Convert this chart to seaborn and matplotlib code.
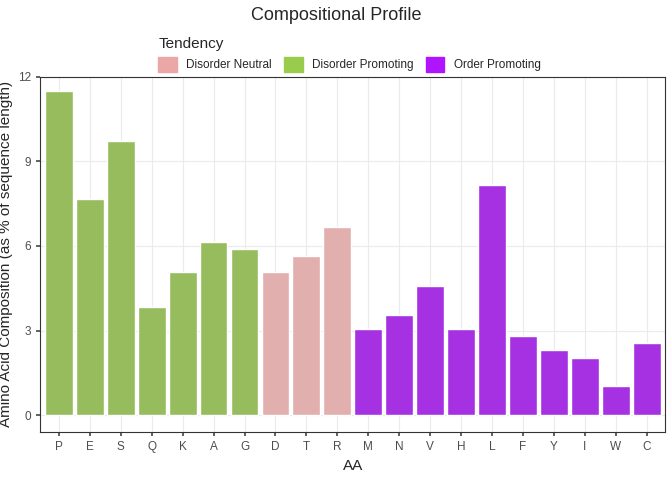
import matplotlib
matplotlib.use("Agg")
import matplotlib.pyplot as plt
import seaborn as sns
import pandas as pd
from matplotlib.patches import Patch

aa = ["P","E","S","Q","K","A","G","D","T","R","M","N","V","H","L","F","Y","I","W","C"]
values = [11.5,7.66,9.72,3.85,5.09,6.13,5.88,5.09,5.63,6.66,3.06,3.56,4.59,3.06,8.15,2.81,2.31,2.03,1.03,2.56]
tendency = ["Disorder Promoting"]*7 + ["Disorder Neutral"]*3 + ["Order Promoting"]*10
palette = {"Disorder Neutral":"#EBA6A6","Disorder Promoting":"#99CC4D","Order Promoting":"#B014FF"}

df = pd.DataFrame({"AA":aa,"val":values,"Tendency":tendency})
sns.set_theme(style="whitegrid")
plt.rcParams['font.family'] = ['Liberation Sans','DejaVu Sans']
fig, ax = plt.subplots(figsize=(6.72,4.8), dpi=100)
fig.subplots_adjust(left=0.06, right=0.99, top=0.84, bottom=0.1)
sns.barplot(data=df, x="AA", y="val", hue="Tendency", palette=palette, dodge=False,
            width=0.9, ax=ax, legend=False, order=aa)
ax.set_ylim(-0.6, 12.0)
ax.set_xlim(-0.6, 19.6)
ax.set_yticks([0,3,6,9,12])
ax.set_xlabel("AA", fontsize=11)
ax.set_ylabel("Amino Acid Composition (as % of sequence length)", fontsize=11)
ax.tick_params(labelsize=8.5, colors="#4d4d4d", length=3, left=True, bottom=True)
ax.grid(True, color="#ebebeb", linewidth=0.8)
ax.set_axisbelow(True)
for s in ax.spines.values():
    s.set_color("#333333"); s.set_linewidth(0.8)
ax.set_facecolor("white")
handles = [Patch(color=palette[k], label=k) for k in palette]
fig.legend(handles=handles, title="Tendency", loc="upper center", ncol=3,
           bbox_to_anchor=(0.52, 0.945), frameon=False, fontsize=8.5,
           title_fontsize=11, handlelength=1.6, handleheight=1.6, columnspacing=1.0)
leg = fig.legends[0]
leg._legend_box.align = "left"
leg.set_title("Tendency")
# title inline
from matplotlib.offsetbox import HPacker
fig.suptitle("Compositional Profile", y=0.985, fontsize=13)
fig.savefig("out.png", dpi=100)
